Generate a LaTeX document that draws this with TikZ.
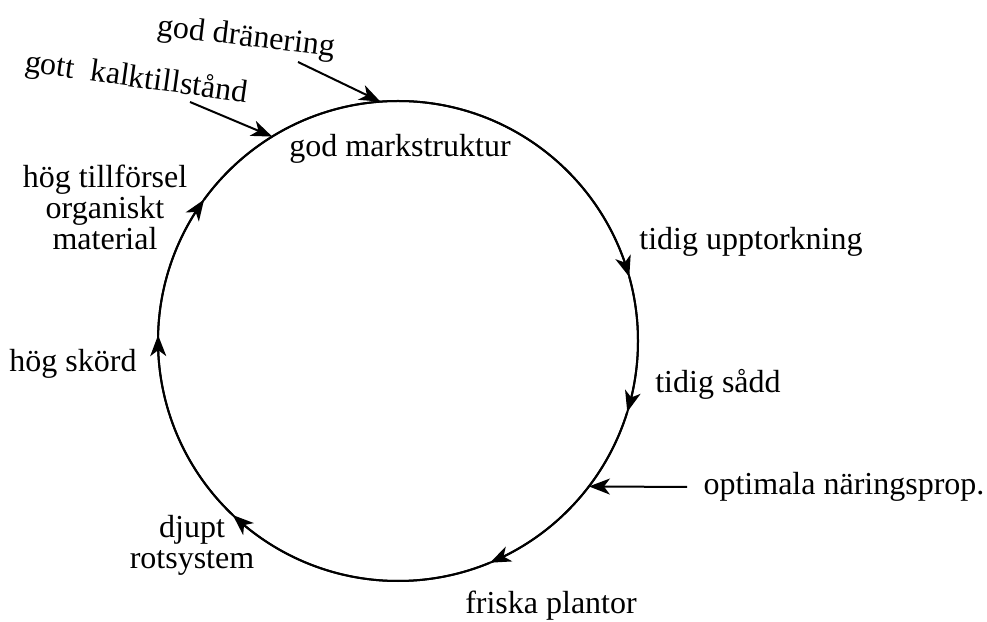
\documentclass[tikz,border=0pt]{standalone}
\usepackage{fontspec}
\setmainfont{Liberation Serif}
\usepackage{tikz}
\usetikzlibrary{arrows.meta,bending}
\usetikzlibrary{calc}
\usetikzlibrary{positioning}

\begin{document}
\begin{tikzpicture}[x=1pt,y=1pt,line width=2pt,>={Stealth[length=21pt,width=16pt,inset=6pt]}]
  \tikzstyle{every node}=[font=\fontsize{32}{31}\selectfont, inner sep=0pt, align=center, anchor=base]
  \tikzstyle{inpil}=[->]
  \useasboundingbox (0,0) rectangle (987,621);
  \coordinate (O) at (398,280);
  \def\R{240}

  % texter
  \node (mark) at (400,464) {god markstruktur};
  \node (dran) [rotate=-7] at (245,575) {god dränering};
  \node (kalk) [rotate=-8] at (135,534) {gott\ \ kalktillstånd};
  \node (upp) at (751,371) {tidig upptorkning};
  \node (sadd) at (718,228) {tidig sådd};
  \node (opt) at (844,126) {optimala näringsprop.};
  \node (frisk) at (551,8) {friska plantor};
  \node (djup) at (192,53) {djupt\\rotsystem};
  \node (skord) at (73,249) {hög skörd};
  \node (till) at (105,371) {hög tillförsel\\organiskt\\material};

  % punkter pa cirkeln
  \foreach \n/\a in {c1/143.9, c2/15.5, c3/-17.2, c4/-67.5, c5/-133.5, c6/-181.4, d1/94.2, k1/121.6, o1/-37.3}
    \coordinate (\n) at ($(O)+(\a:\R)$);

  % cirkeln
  \draw (O) circle[radius=\R];
  \foreach \s/\a/\b in {c1/143.9/15.5, c2/15.5/-17.2, c3/-17.2/-67.5, c4/-67.5/-133.5, c5/-133.5/-181.4, c6/-181.4/-216.1}
    \draw[->] (\s) arc[start angle=\a, end angle=\b, radius=\R];

  % pilar in
  \coordinate (d0) at (298,559);
  \coordinate (k0) at (190,519);
  \coordinate (o0) at (687,134);
  \draw[inpil] (d0) -- (d1);
  \draw[inpil] (k0) -- (k1);
  \draw[inpil] (o0) -- (o1);
\end{tikzpicture}
\end{document}
